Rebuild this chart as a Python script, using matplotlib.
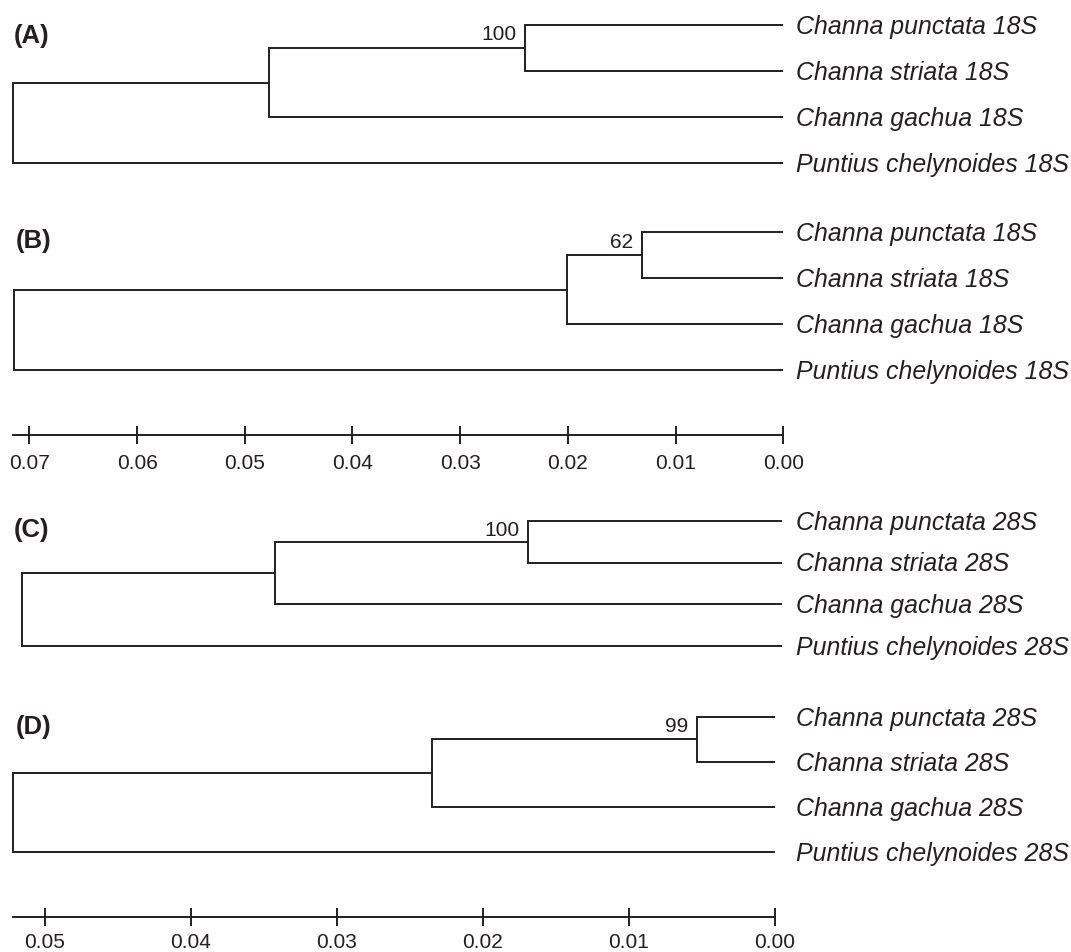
import matplotlib
matplotlib.use("Agg")
import matplotlib.pyplot as plt

plt.rcParams["font.family"] = ["Liberation Sans", "DejaVu Sans"]

# ---------------- data ----------------
taxa_18S = ["Channa punctata 18S", "Channa striata 18S",
            "Channa gachua 18S", "Puntius chelynoides 18S"]
taxa_28S = ["Channa punctata 28S", "Channa striata 28S",
            "Channa gachua 28S", "Puntius chelynoides 28S"]
panel_labels = ["(A)", "(B)", "(C)", "(D)"]
# node heights (distance units): [punctata+striata, +gachua, root]
heights_A = [0.0239, 0.0477, 0.0715]
heights_B = [0.0131, 0.0201, 0.0714]
heights_C = [0.0174, 0.0348, 0.0521]
heights_D = [0.0053, 0.0235, 0.0522]
bootstrap = [100, 62, 100, 99]
scale_ticks_18S = [0.07, 0.06, 0.05, 0.04, 0.03, 0.02, 0.01, 0.00]
scale_ticks_28S = [0.05, 0.04, 0.03, 0.02, 0.01, 0.00]

# ---------------- layout ----------------
W, H = 1071, 952
DPI = 100
PT = 72.0 / DPI  # points per pixel
INK = "#231f20"
LW = 1.4
SPECIES_FS = 17.9
BOOT_FS = 15
PANEL_FS = 18.5
TICK_FS = 15
CAP = 0.716

fig = plt.figure(figsize=(W / DPI, H / DPI), dpi=DPI)
fig.patch.set_facecolor("white")


def make_axes(top_px, bottom_px, tip_px, ppu):
    ax = fig.add_axes([0, 1 - bottom_px / H, 1, (bottom_px - top_px) / H])
    ax.set_xlim(tip_px / ppu, (tip_px - W) / ppu)
    ax.axis("off")
    ax.patch.set_alpha(0)
    return ax


def draw_tree(heights, taxa, boot, label, top_px, sp_px, tip_px, ppu,
              lab_base_px, lab_x_px, text_x_px=796):
    ax = make_axes(top_px - 0.5 * sp_px, top_px + 3.5 * sp_px, tip_px, ppu)
    ax.set_ylim(3.5, -0.5)
    h1, h2, hr = heights
    m1 = 0.5
    m2 = (m1 + 2) / 2
    kw = dict(color=INK, lw=LW, solid_joinstyle="miter",
              solid_capstyle="butt")
    ax.plot([0, h1, h1, 0], [0, 0, 1, 1], **kw)
    ax.plot([h1, h2, h2, 0], [m1, m1, 2, 2], **kw)
    ax.plot([h2, hr, hr, 0], [m2, m2, 3, 3], **kw)
    dx = (text_x_px - tip_px) * PT
    for i, name in enumerate(taxa):
        ax.annotate(name, xy=(0, i), xytext=(dx, -CAP * SPECIES_FS / 2),
                    textcoords="offset points", ha="left", va="baseline",
                    style="italic", fontsize=SPECIES_FS, color=INK)
    ax.annotate(str(boot), xy=(h1, 0), xytext=(-6.5, -CAP * BOOT_FS - 0.3),
                textcoords="offset points", ha="right", va="baseline",
                fontsize=BOOT_FS, color=INK)
    fig.text(lab_x_px / W, 1 - lab_base_px / H, label, fontsize=PANEL_FS,
             fontweight="bold", ha="left", va="baseline", color=INK)


def draw_scale(ticks, axis_px, tip_px, ppu, bound, pad):
    ax = fig.add_axes([0, 1 - axis_px / H, 1, 0.001])
    ax.set_xlim(tip_px / ppu, (tip_px - W) / ppu)
    ax.patch.set_alpha(0)
    for s in ("top", "left", "right"):
        ax.spines[s].set_visible(False)
    ax.spines["bottom"].set_bounds(0, bound)
    ax.spines["bottom"].set_linewidth(LW)
    ax.spines["bottom"].set_color(INK)
    ax.set_yticks([])
    ax.set_xticks(ticks)
    ax.set_xticklabels(["%.2f" % t for t in ticks])
    ax.tick_params(axis="x", direction="inout", length=12.5, width=LW,
                   pad=pad, labelsize=TICK_FS, colors=INK)


draw_tree(heights_A, taxa_18S, bootstrap[0], panel_labels[0],
          25.0, 46.1, 782.7, 10770, 43.3, 14)
draw_tree(heights_B, taxa_18S, bootstrap[1], panel_labels[1],
          232.3, 45.9, 783.3, 10770, 248.3, 16)
draw_scale(scale_ticks_18S, 435.5, 783.3, 10770,
           max(heights_A[2], heights_B[2]), 7.0)

draw_tree(heights_C, taxa_28S, bootstrap[2], panel_labels[2],
          520.7, 41.8, 782.3, 14590, 536.7, 14)
draw_tree(heights_D, taxa_28S, bootstrap[3], panel_labels[3],
          716.7, 45.2, 774.5, 14590, 734.0, 16)
draw_scale(scale_ticks_28S, 916.7, 774.5, 14590,
           max(heights_D[2], heights_D[2]), 5.5)

fig.savefig("out.png", dpi=DPI, facecolor="white")
